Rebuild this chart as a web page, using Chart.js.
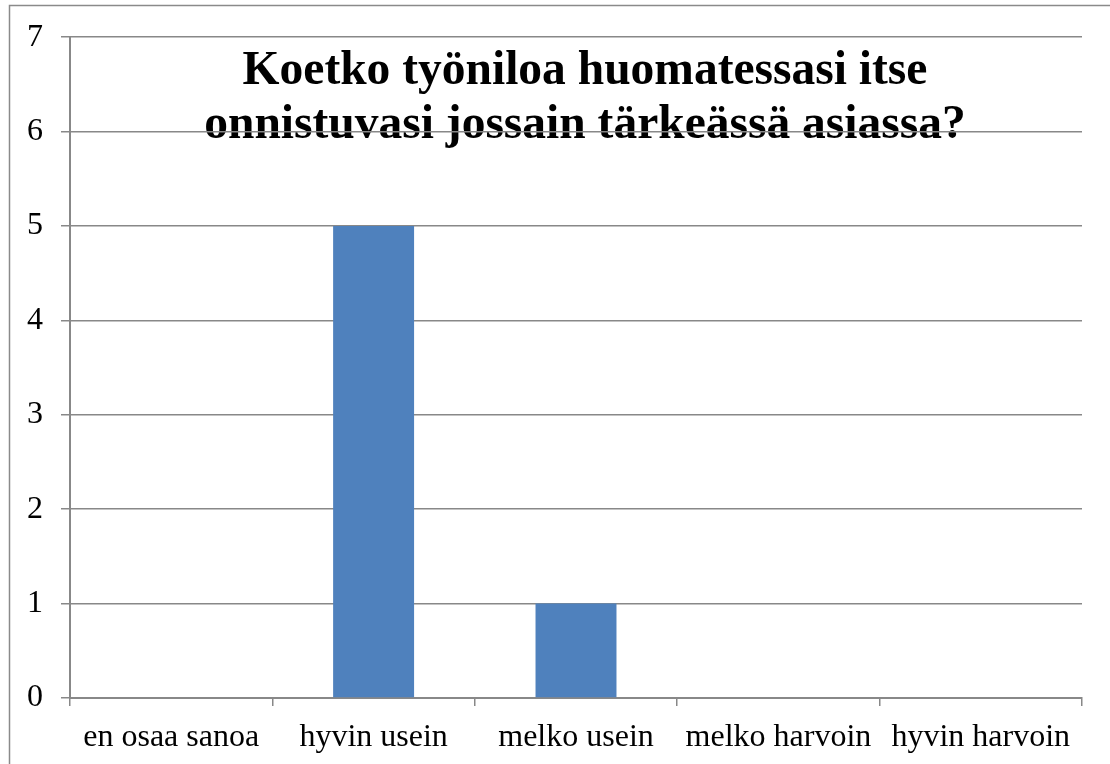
<!DOCTYPE html>
<html>
<head>
<meta charset="utf-8">
<script src="https://cdn.jsdelivr.net/npm/chart.js@4"></script>
<style>
html,body{margin:0;padding:0;background:#fff;}
#wrap{width:1110px;height:764px;position:relative;}
</style>
</head>
<body>
<div id="wrap"><canvas id="c" width="1110" height="764"></canvas></div>
<script>
const categories = ["en osaa sanoa", "hyvin usein", "melko usein", "melko harvoin", "hyvin harvoin"];
const values = [0, 5, 1, 0, 0];
const titleLines = ["Koetko työniloa huomatessasi itse", "onnistuvasi jossain tärkeässä asiassa?"];
const yTicksMax = 7;

const FONT = "'Liberation Serif', 'Times New Roman', serif";
const GRID = '#888888';

// Draws the frame and the title beneath the gridlines (as in the reference)
const framePlugin = {
  id: 'frame',
  beforeDraw(chart) {
    const ctx = chart.ctx;
    ctx.save();
    ctx.fillStyle = '#fff';
    ctx.fillRect(0, 0, chart.width, chart.height);
    ctx.strokeStyle = '#8a8a8a';
    ctx.lineWidth = 1.5;
    ctx.strokeRect(9.5, 5.5, 1300, 1300);
    ctx.fillStyle = '#000';
    ctx.font = "bold 47.5px " + FONT;
    ctx.textAlign = 'center';
    ctx.textBaseline = 'alphabetic';
    const cx = 585;
    ctx.fillText(titleLines[0], cx, 84);
    ctx.fillText(titleLines[1], cx, 138);
    ctx.restore();
  }
};

new Chart(document.getElementById('c'), {
  type: 'bar',
  data: {
    labels: categories,
    datasets: [{
      data: values,
      backgroundColor: '#4F81BD',
      borderWidth: 0,
      barPercentage: 0.4,
      categoryPercentage: 1.0
    }]
  },
  options: {
    responsive: false,
    animation: false,
    devicePixelRatio: 1,
    layout: { padding: { left: 0, top: 37, right: 28, bottom: 0 } },
    plugins: {
      legend: { display: false },
      title: { display: false },
      tooltip: { enabled: false }
    },
    scales: {
      x: {
        offset: true,
        grid: {
          offset: true,
          drawOnChartArea: false,
          drawTicks: true,
          tickLength: 8,
          color: GRID,
          lineWidth: 1.5
        },
        border: { display: true, color: GRID, width: 2 },
        ticks: {
          color: '#000',
          font: { family: FONT, size: 32 },
          padding: 12,
          maxRotation: 0,
          autoSkip: false
        },
        afterFit(scale) { scale.height = 66; }
      },
      y: {
        min: 0,
        max: yTicksMax,
        grid: {
          color: GRID,
          lineWidth: 1.5,
          drawTicks: true,
          tickLength: 9
        },
        border: { display: true, color: GRID, width: 2 },
        ticks: {
          stepSize: 1,
          color: '#000',
          font: { family: FONT, size: 32 },
          padding: 18
        },
        afterFit(scale) { scale.width = 70; }
      }
    }
  },
  plugins: [framePlugin]
});
</script>
</body>
</html>
